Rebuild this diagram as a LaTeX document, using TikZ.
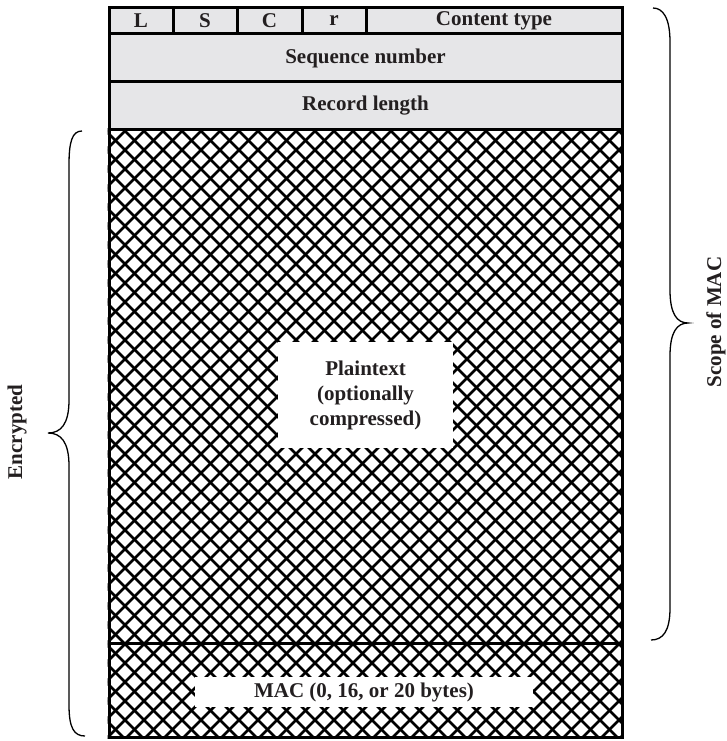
\documentclass[tikz,border=0pt]{standalone}
\usepackage{fontspec}
\setmainfont{Liberation Serif}
\usetikzlibrary{backgrounds}
\definecolor{hdrgray}{RGB}{230,230,232}
\definecolor{txt}{RGB}{35,31,32}
\tikzset{
  field/.style={draw=black, line width=3pt, fill=hdrgray, inner sep=0pt,
    minimum width=#1, anchor=center, text=txt,
    font=\fontsize{21}{24}\selectfont\bfseries},
  body/.style={draw=black, line width=3pt, inner sep=0pt, minimum width=513pt},
  label/.style={fill=white, inner sep=0pt, text=txt, align=center,
    font=\fontsize{21}{25}\selectfont\bfseries},
  side/.style={text=txt, rotate=90, font=\fontsize{21}{24}\selectfont\bfseries},
  hatch/.style={line width=2.7pt, black},
  bracestyle/.style={line width=1.3pt, black}
}
\begin{document}
\begin{tikzpicture}[x=1pt,y=-1pt]
\useasboundingbox (0,0) rectangle (726,741);
% header fields
\node[field=64pt, minimum height=26pt] (L) at (141,21) {L};
\node[field=64pt, minimum height=26pt] (S) at (205,21) {S};
\node[field=65pt, minimum height=26pt] (C) at (269.5,21) {C};
\node[field=64pt, minimum height=26pt] (r) at (334,21) {r};
\node[field=256pt, minimum height=26pt] (ct) at (494,21) {Content type};
\node[field=513pt, minimum height=48pt] (seq) at (365.5,58) {Sequence number};
\node[field=513pt, minimum height=48pt] (len) at (365.5,106) {Record length};
% body
\node[body, minimum height=513pt] (pt) at (365.5,386.5) {};
\node[body, minimum height=94pt] (mac) at (365.5,690) {};
\begin{scope}[on background layer]
  \clip (pt.north west) rectangle (mac.south east);
  \foreach \k in {-40,...,30}{
    \draw[hatch] (100+19*\k,745) -- +(720,-720);
    \draw[hatch] (100+19*\k,125) -- +(720,720);
  }
\end{scope}
\node[label, minimum width=175pt, minimum height=106pt] (ptxt) at (365.5,395)
  {Plaintext\\(optionally\\compressed)};
\node[label, minimum width=338pt, minimum height=30pt] (mtxt) at (364,692)
  {MAC (0, 16, or 20 bytes)};
% braces
\coordinate (lb1) at (82,131);
\coordinate (lbtip) at (48,433);
\coordinate (lb2) at (85,736);
\draw[bracestyle] (lb1) .. controls (72,131) and (69,142) .. (69,165)
  -- (69,400) .. controls (69,424) and (61,433) .. (lbtip)
  .. controls (61,433) and (69,442) .. (69,466)
  -- (69,705) .. controls (69,728) and (74,736) .. (lb2);
\coordinate (rb1) at (653,8);
\coordinate (rbtip) at (688,323);
\coordinate (rb2) at (651,640);
\draw[bracestyle] (rb1) .. controls (663,8) and (670,18) .. (670,42)
  -- (670,290) .. controls (670,314) and (677,323) .. (rbtip)
  .. controls (677,323) and (670,332) .. (670,356)
  -- (670,608) .. controls (670,631) and (663,640) .. (rb2);
\node[side] (enc) at (17,432) {Encrypted};
\node[side] (scope) at (716,322) {Scope of MAC};
\end{tikzpicture}
\end{document}
